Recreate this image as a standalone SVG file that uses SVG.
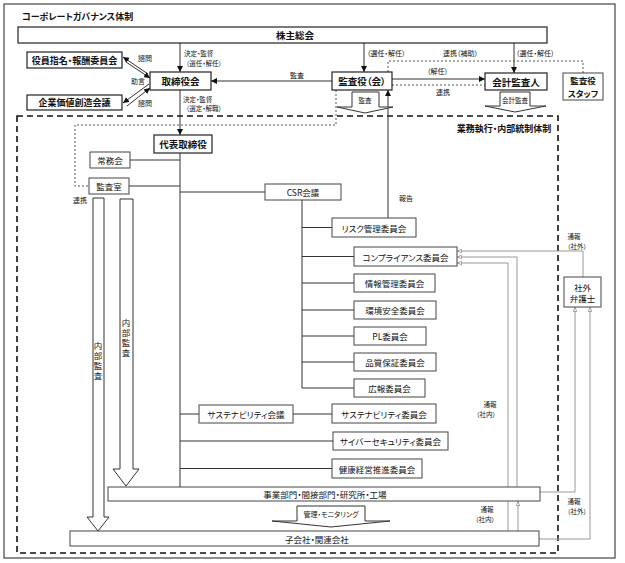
<svg xmlns="http://www.w3.org/2000/svg" width="625" height="563" viewBox="0 0 625 563">
<defs>
<style>
.box{fill:#fff;stroke:#222;stroke-width:1.2}
.box2{fill:#fff;stroke:#444;stroke-width:1}
.ln{fill:none;stroke:#333;stroke-width:1}
.gl{fill:none;stroke:#999;stroke-width:1}
.dot{fill:none;stroke:#555;stroke-width:1;stroke-dasharray:2 2}
.flow{fill:#fff;stroke:#333;stroke-width:1}
text{font-family:"Noto Sans CJK JP","Noto Sans",sans-serif;font-size:8.5px;fill:#111;text-anchor:middle;dominant-baseline:central;font-feature-settings:"palt" 1}
.b{font-weight:bold;font-size:9.5px}
.s{font-size:7px}
.xs{font-size:6.5px}
.st{text-anchor:start}
.v{writing-mode:vertical-rl;font-feature-settings:normal;letter-spacing:1.5px}
</style>
<marker id="ah" viewBox="0 0 10 10" refX="10" refY="5" markerWidth="6" markerHeight="6" markerUnits="userSpaceOnUse" orient="auto"><path d="M0,0 L10,5 L0,10 z" fill="#111"/></marker>
<marker id="gh" viewBox="0 0 10 10" refX="10" refY="5" markerWidth="5" markerHeight="5" markerUnits="userSpaceOnUse" orient="auto"><path d="M1,1.5 L9,5 L1,8.5 z" fill="#fff" stroke="#888" stroke-width="1.5"/></marker>
</defs>
<rect x="0" y="0" width="625" height="563" fill="#fff"/>
<rect x="4" y="4" width="611" height="554" fill="none" stroke="#444" stroke-width="1.2"/>
<text class="b st" x="22" y="16" style="font-size:9px">コーポレートガバナンス体制</text>
<rect x="17" y="116" width="541" height="437" fill="none" stroke="#111" stroke-width="1.6" stroke-dasharray="6 4"/>
<text class="b" x="504" y="128" style="font-size:9px">業務執行・内部統制体制</text>

<g id="connectors">
<line class="ln" x1="180" y1="43" x2="180" y2="72" marker-end="url(#ah)"/>
<line class="ln" x1="364" y1="43" x2="364" y2="72" marker-end="url(#ah)"/>
<line class="ln" x1="514" y1="43" x2="514" y2="73" marker-end="url(#ah)"/>
<line class="ln" x1="332" y1="81" x2="211" y2="81" marker-end="url(#ah)"/>
<line class="ln" x1="392" y1="79" x2="485" y2="79" marker-end="url(#ah)"/>
<line class="dot" x1="392" y1="85" x2="485" y2="85"/>
<polyline class="dot" points="388,72 388,61 583,61 583,73"/>
<polyline class="dot" points="336,90 336,125 75,125 75,186 89,186"/>
<line class="ln" x1="180" y1="90" x2="180" y2="135" marker-end="url(#ah)"/>
<line class="ln" x1="180" y1="153" x2="180" y2="487"/>
<line class="ln" x1="130" y1="160" x2="180" y2="160"/>
<line class="ln" x1="129" y1="186" x2="180" y2="186"/>
<line class="ln" x1="180" y1="192" x2="265" y2="192"/>
<line class="ln" x1="302" y1="200" x2="302" y2="388"/>
<line class="ln" x1="302" y1="227.5" x2="332" y2="227.5"/>
<line class="ln" x1="302" y1="256.5" x2="354" y2="256.5"/>
<line class="ln" x1="302" y1="283" x2="354" y2="283"/>
<line class="ln" x1="302" y1="310" x2="354" y2="310"/>
<line class="ln" x1="302" y1="336" x2="354" y2="336"/>
<line class="ln" x1="302" y1="362" x2="354" y2="362"/>
<line class="ln" x1="302" y1="388" x2="354" y2="388"/>
<line class="ln" x1="180" y1="414" x2="199" y2="414"/>
<line class="ln" x1="293" y1="414" x2="332" y2="414"/>
<line class="ln" x1="180" y1="441" x2="333" y2="441"/>
<line class="ln" x1="180" y1="468.5" x2="332" y2="468.5"/>
<line class="ln" x1="388" y1="218" x2="388" y2="90" marker-end="url(#ah)"/>
<line class="ln" x1="148" y1="74" x2="123" y2="57" marker-end="url(#ah)"/>
<line class="ln" x1="126" y1="62" x2="150" y2="78" marker-end="url(#ah)"/>
<line class="ln" x1="149" y1="84" x2="123" y2="103" marker-end="url(#ah)"/>
<line class="ln" x1="127" y1="106" x2="150" y2="88" marker-end="url(#ah)"/>
<polyline class="gl" points="583,277 583,251 457,251" marker-end="url(#gh)"/>
<polyline class="gl" points="517,487 517,257 457,257" marker-end="url(#gh)"/>
<polyline class="gl" points="508,487 508,263 457,263" marker-end="url(#gh)"/>
<line class="gl" x1="508" y1="531" x2="508" y2="501"/>
<line class="gl" x1="518" y1="531" x2="518" y2="501" marker-end="url(#gh)"/>
<polyline class="gl" points="540,492 575,492 575,307" marker-end="url(#gh)"/>
<polyline class="gl" points="539,539 590,539 590,307" marker-end="url(#gh)"/>
<g id="flows">
<path class="flow" d="M93,198 H104 V517 H109 L98,531 L87,517 H93 Z"/>
<path class="flow" d="M120,199 H133 V469 H139 L126,486 L113,469 H120 Z"/>
<path class="flow" d="M352,92 H379 V107 H393 L365,113 L337,107 H352 Z"/>
<path class="flow" d="M500,92 H530 V106 H546 L515,112 L485,106 H500 Z"/>
<path class="flow" d="M297,506 H365 V521 H390 L331,527 L272,521 H297 Z"/>
<text class="v" x="98" y="362">内部監査</text>
<text class="v" x="126" y="339">内部監査</text>
<text class="xs" x="365" y="100">監査</text>
<text class="xs" x="515" y="100">会計監査</text>
<text class="s" x="331" y="514">管理・モニタリング</text>
</g>
<g id="labels">
<text class="s" x="145" y="58">諮問</text>
<text class="s" x="138" y="81">助言</text>
<text class="s" x="145" y="103">諮問</text>
<text class="xs st" x="184" y="53">決定・監督</text>
<text class="xs st" x="186" y="62.5">（選任・解任）</text>
<text class="xs st" x="183" y="98.5">決定・監督</text>
<text class="xs st" x="186" y="108">（選定・解職）</text>
<text class="s" x="297" y="75">監査</text>
<text class="s st" x="367" y="53">（選任・解任）</text>
<text class="s st" x="443" y="53">連携（補助）</text>
<text class="s st" x="516" y="53">（選任・解任）</text>
<text class="s st" x="427" y="71">（解任）</text>
<text class="s" x="443" y="92">連携</text>
<text class="s" x="406" y="198">報告</text>
<text class="s" x="80" y="200">連携</text>
<text class="xs" x="574" y="236">通報</text>
<text class="xs" x="577" y="245.5">（社外）</text>
<text class="xs" x="490" y="404">通報</text>
<text class="xs" x="486" y="413.5">（社内）</text>
<text class="xs" x="487" y="509">通報</text>
<text class="xs" x="485" y="518.5">（社内）</text>
<text class="xs" x="574" y="501">通報</text>
<text class="xs" x="577" y="510.5">（社外）</text>
</g>
</g>

<g id="n-shareholders"><rect class="box" x="18" y="27" width="529" height="16"/><text class="b" x="295" y="35">株主総会</text></g>
<g id="n-yakuin"><rect class="box" x="27" y="52" width="95" height="16"/><text class="b" x="74.5" y="60" style="font-size:9px">役員指名・報酬委員会</text></g>
<g id="n-kigyo"><rect class="box" x="27" y="95" width="95" height="15"/><text class="b" x="74.5" y="102.5" style="font-size:9px">企業価値創造会議</text></g>
<g id="n-board"><rect class="box" x="150" y="72" width="61" height="18"/><text class="b" x="180.5" y="81">取締役会</text></g>
<g id="n-kansayaku"><rect class="box" x="332" y="72" width="60" height="18"/><text class="b" x="362" y="81">監査役（会）</text></g>
<g id="n-kaikei"><rect class="box" x="485" y="73" width="62" height="17"/><text class="b" x="516" y="81.5">会計監査人</text></g>
<g id="n-staff"><rect class="box2" x="563" y="73" width="40" height="27"/><text class="b" x="583" y="80" style="font-size:8.5px">監査役</text><text class="b" x="583" y="92.5" style="font-size:8.5px">スタッフ</text></g>
<g id="n-daihyo"><rect class="box" x="154" y="135" width="58" height="18"/><text class="b" x="183" y="144">代表取締役</text></g>
<g id="n-jomukai"><rect class="box2" x="90" y="152" width="40" height="16"/><text x="110" y="160">常務会</text></g>
<g id="n-kansashitsu"><rect class="box2" x="89" y="178" width="40" height="16"/><text x="109" y="186">監査室</text></g>
<g id="n-csr"><rect class="box2" x="265" y="184" width="76" height="16"/><text x="303" y="192">CSR会議</text></g>
<g id="n-risk"><rect class="box2" x="332" y="218" width="84" height="19"/><text x="374" y="227.5">リスク管理委員会</text></g>
<g id="n-compliance"><rect class="box2" x="354" y="247" width="103" height="19"/><text x="405.5" y="256.5">コンプライアンス委員会</text></g>
<g id="n-joho"><rect class="box2" x="354" y="274" width="81" height="18"/><text x="394.5" y="283">情報管理委員会</text></g>
<g id="n-kankyo"><rect class="box2" x="354" y="301" width="82" height="18"/><text x="395" y="310">環境安全委員会</text></g>
<g id="n-pl"><rect class="box2" x="354" y="327" width="72" height="18"/><text x="390" y="336">PL委員会</text></g>
<g id="n-hinshitsu"><rect class="box2" x="354" y="353" width="82" height="18"/><text x="395" y="362">品質保証委員会</text></g>
<g id="n-koho"><rect class="box2" x="354" y="379" width="71" height="18"/><text x="389.5" y="388">広報委員会</text></g>
<g id="n-sus-kaigi"><rect class="box2" x="199" y="405" width="94" height="18"/><text x="246" y="414">サステナビリティ会議</text></g>
<g id="n-sus-iinkai"><rect class="box2" x="332" y="404" width="104" height="19"/><text x="384" y="413.5">サステナビリティ委員会</text></g>
<g id="n-cyber"><rect class="box2" x="333" y="432" width="115" height="18"/><text x="390.5" y="441">サイバーセキュリティ委員会</text></g>
<g id="n-kenko"><rect class="box2" x="332" y="459" width="90" height="19"/><text x="377" y="468.5">健康経営推進委員会</text></g>
<g id="n-jigyo"><rect class="box2" x="108" y="487" width="432" height="14"/><text x="325" y="494">事業部門・間接部門・研究所・工場</text></g>
<g id="n-kogaisha"><rect class="box2" x="70" y="531" width="469" height="15"/><text x="317" y="538.5">子会社・関連会社</text></g>
<g id="n-bengoshi"><rect class="box2" x="564" y="277" width="37" height="30"/><text x="582.5" y="287">社外</text><text x="582.5" y="298">弁護士</text></g>
</svg>
